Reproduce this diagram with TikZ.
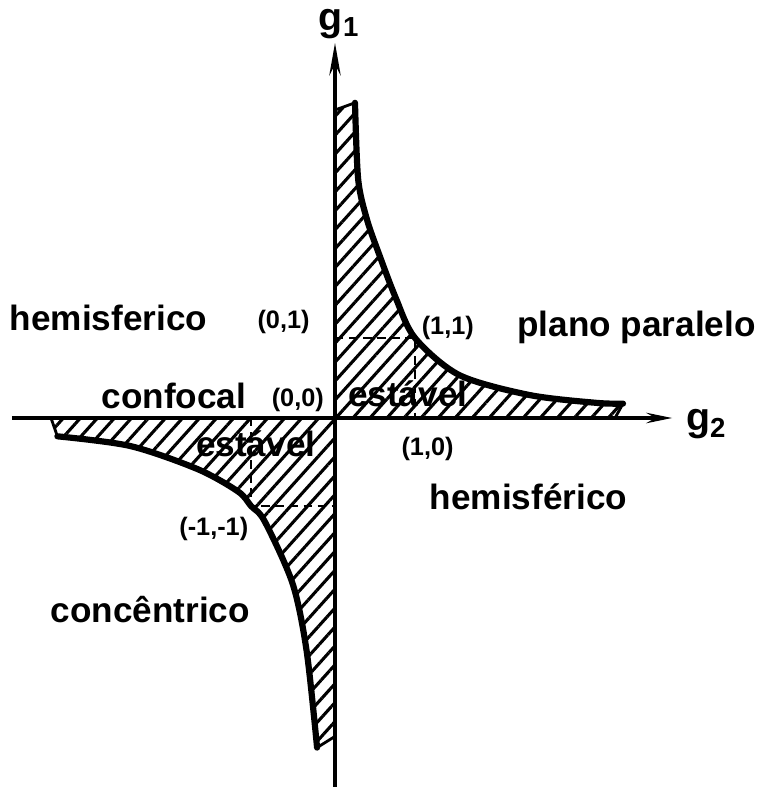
\documentclass[tikz,border=0pt]{standalone}
\usepackage{fontspec}
\setmainfont{Liberation Sans}
\usetikzlibrary{arrows.meta,patterns.meta,backgrounds}

\begin{document}
\begin{tikzpicture}[x=2cm, y=2cm]
  \tikzset{
    axis/.style={line width=3pt},
    curve/.style={line width=4.4pt, line cap=round},
    hatch/.style={pattern={Lines[angle=48,distance=9pt,line width=2.2pt]}},
    rim/.style={line width=2pt},
    guide/.style={line width=1.4pt, dash pattern=on 6pt off 4pt},
    region/.style={font=\fontsize{25}{27}\selectfont\bfseries, anchor=base, inner sep=0pt},
    point/.style={font=\fontsize{18}{20}\selectfont\bfseries, anchor=base, inner sep=0pt},
    axlbl/.style={font=\fontsize{28}{30}\selectfont\bfseries, inner sep=0pt}
  }
  \useasboundingbox (-4.1875,-4.6625) rectangle (5.5625,5.225);

  % Key points
  \coordinate (o)   at (0,0);
  \coordinate (q01) at (0,1);
  \coordinate (q11) at (1,1);
  \coordinate (q10) at (1,0);
  \coordinate (qmx) at (-1.05,0);
  \coordinate (qmm) at (-1.05,-1.1);
  \coordinate (qmy) at (0,-1.1);

  % Stable regions (hatched)
  \begin{scope}[on background layer]
    \path[hatch] (0,3.85) -- plot[smooth] coordinates {(0.25,3.94) (0.29,2.98) (0.40,2.48) (0.55,2.05) (0.76,1.5) (1,1) (1.555,0.536) (2.43,0.2875) (3.27,0.189) (3.6,0.18)} -- (3.5,0) -- (o) -- cycle;
    \path[hatch] (-3.55,0) -- plot[smooth] coordinates {(-3.47,-0.229) (-2.56,-0.35) (-1.715,-0.64) (-1.21,-0.92) (-1.05,-1.1) (-0.88,-1.29) (-0.53,-2.07) (-0.355,-2.91) (-0.224,-4.12)} -- (0,-3.98) -- (o) -- cycle;
  \end{scope}

  % Boundary curves
  \draw[curve] plot[smooth] coordinates {(0.25,3.94) (0.29,2.98) (0.40,2.48) (0.55,2.05) (0.76,1.5) (1,1) (1.555,0.536) (2.43,0.2875) (3.27,0.189) (3.6,0.18)};
  \draw[curve] plot[smooth] coordinates {(-3.47,-0.229) (-2.56,-0.35) (-1.715,-0.64) (-1.21,-0.92) (-1.05,-1.1) (-0.88,-1.29) (-0.53,-2.07) (-0.355,-2.91) (-0.224,-4.12)};
  \draw[rim] (0,3.85) -- (0.25,3.94);
  \draw[rim] (3.6,0.18) -- (3.5,0);
  \draw[rim] (-3.55,0) -- (-3.47,-0.229);
  \draw[rim] (-0.224,-4.12) -- (0,-3.98);

  % Axes
  \draw[axis, -{Stealth[length=23pt,width=8pt]}] (0,-4.61) -- (0,4.69);
  \draw[axis, -{Stealth[length=18pt,width=7pt]}] (-4.04,0) -- (4.22,0);
  \node[axlbl] (g1) at (0.05,4.93) {g\textsubscript{1}};
  \node[axlbl] (g2) at (4.64,-0.07) {g\textsubscript{2}};

  % Guide lines
  \draw[guide] (q01) -- (q11) -- (q10);
  \draw[guide] (qmx) -- (qmm) -- (qmy);

  % Labels
  \node[region] (hemi1)    at (-2.83,1.094)   {hemisferico};
  \node[point]  (p01)      at (-0.643,1.115)  {(0,1)};
  \node[point]  (p11)      at (1.41,1.047)    {(1,1)};
  \node[region] (plano)    at (3.77,1.02)     {plano paralelo};
  \node[region] (confocal) at (-2.015,0.119)  {confocal};
  \node[point]  (p00)      at (-0.465,0.1425) {(0,0)};
  \node[region] (est1)     at (0.91,0.139)    {estável};
  \node[region] (est2)     at (-0.99,-0.478)  {estável};
  \node[point]  (p10)      at (1.157,-0.47)   {(1,0)};
  \node[point]  (pmm)      at (-1.515,-1.474) {(-1,-1)};
  \node[region] (hemi2)    at (2.42,-1.15)    {hemisférico};
  \node[region] (conc)     at (-2.31,-2.56)   {concêntrico};

\end{tikzpicture}
\end{document}
